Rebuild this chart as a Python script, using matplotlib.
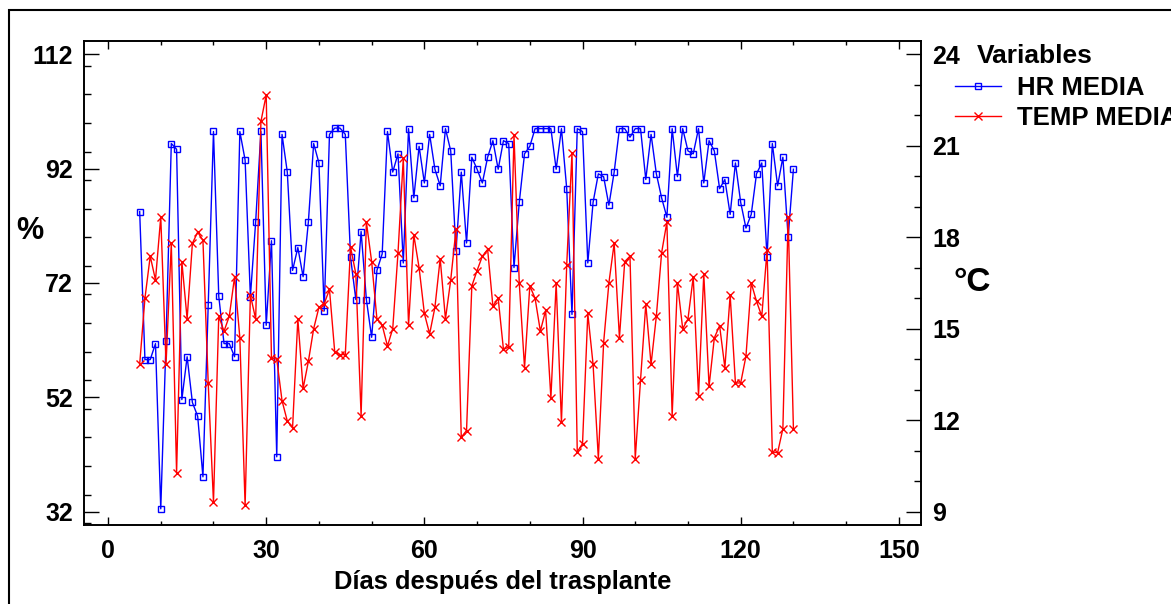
import matplotlib
matplotlib.use('Agg')
import matplotlib.pyplot as plt
from matplotlib.ticker import MultipleLocator
from matplotlib.patches import Rectangle

plt.rcParams['font.family'] = ['Liberation Sans', 'DejaVu Sans']
plt.rcParams['font.weight'] = 'bold'

# Días después del trasplante (6 a 130)
dias = list(range(6, 131))

# HR MEDIA (%), eje izquierdo
hr_media = [84.5, 58.6, 58.6, 61.4, 32.5, 61.9, 96.4, 95.4, 51.6, 59.1,
            51.1, 48.7, 38.1, 68.1, 98.5, 69.7, 61.4, 61.4, 59.1, 98.5,
            93.5, 69.6, 82.7, 98.5, 64.6, 79.4, 41.6, 98.0, 91.4, 74.2,
            78.2, 73.1, 82.7, 96.4, 93.0, 67.1, 98.0, 99.1, 99.1, 98.0,
            76.5, 69.1, 81.0, 69.1, 62.5, 74.2, 77.1, 98.5, 91.4, 94.6,
            75.5, 99.0, 86.9, 95.9, 89.5, 98.0, 91.9, 89.0, 99.0, 95.1,
            77.6, 91.4, 79.0, 94.0, 91.9, 89.5, 94.0, 96.9, 91.9, 96.9,
            96.4, 74.7, 86.1, 94.6, 95.9, 99.0, 99.0, 99.0, 99.0, 91.9,
            99.0, 88.5, 66.5, 99.0, 98.5, 75.5, 86.1, 91.1, 90.6, 85.6,
            91.4, 99.0, 99.0, 97.5, 99.0, 99.0, 90.1, 98.0, 91.1, 86.9,
            83.5, 99.0, 90.6, 99.0, 95.1, 94.6, 99.0, 89.5, 96.9, 95.1,
            88.5, 90.1, 84.0, 93.0, 86.1, 81.6, 84.0, 91.1, 93.0, 76.5,
            96.4, 89.0, 94.0, 80.0, 91.9]

# TEMP MEDIA (°C), eje derecho
temp_media = [13.83, 16.0, 17.38, 16.6, 18.67, 13.83, 17.8, 10.27, 17.2, 15.32,
              17.8, 18.17, 17.9, 13.22, 9.31, 15.41, 14.92, 15.41, 16.7, 14.7,
              9.2, 16.1, 15.32, 21.8, 22.67, 14.04, 14.0, 12.64, 11.97, 11.75,
              15.32, 13.04, 13.93, 15.0, 15.7, 15.82, 16.29, 14.23, 14.15, 14.15,
              17.68, 16.8, 12.15, 18.5, 17.2, 15.32, 15.12, 14.43, 15.0, 17.49,
              20.59, 15.12, 18.07, 17.0, 15.5, 14.83, 15.7, 17.3, 15.32, 16.6,
              18.26, 11.44, 11.66, 16.4, 16.91, 17.38, 17.6, 15.74, 16.0, 14.32,
              14.4, 21.35, 16.5, 13.72, 16.4, 16.0, 14.92, 15.6, 12.73, 16.5,
              11.93, 17.09, 20.77, 10.96, 11.23, 15.5, 13.83, 10.74, 14.54, 16.5,
              17.8, 14.7, 17.2, 17.38, 10.74, 13.31, 15.8, 13.83, 15.41, 17.49,
              18.5, 12.15, 16.5, 15.0, 15.32, 16.7, 12.8, 16.8, 13.11, 14.7,
              15.1, 13.72, 16.1, 13.22, 13.22, 14.1, 16.5, 15.9, 15.41, 17.57,
              10.96, 10.93, 11.72, 18.66, 11.72]

W, H = 1171, 604
fig = plt.figure(figsize=(W / 100, H / 100), dpi=100)
ax = fig.add_axes([84 / W, 1 - 525 / H, (921 - 84) / W, (525 - 41) / H])
ax2 = ax.twinx()

l1, = ax.plot(dias, hr_media, color='#0000ff', lw=1, marker='s', ms=4.5,
              mfc='none', mew=1, label='HR MEDIA')
l2, = ax2.plot(dias, temp_media, color='#ff0000', lw=1, marker='x', ms=5.5,
               mew=1, label='TEMP MEDIA')

ax.set_xlim(-4.56, 154.2)
ax.set_ylim(29.67, 114.33)
ax2.set_ylim(8.56, 24.44)

ax.set_xticks([0, 30, 60, 90, 120, 150])
ax.xaxis.set_minor_locator(MultipleLocator(10))
ax.set_yticks([32, 52, 72, 92, 112])
ax.yaxis.set_minor_locator(MultipleLocator(5))
ax2.set_yticks([9, 12, 15, 18, 21, 24])
ax2.yaxis.set_minor_locator(MultipleLocator(1))

fs = 18
ax.tick_params(axis='x', which='both', direction='in', top=True, labelsize=fs, pad=10)
ax.tick_params(axis='x', which='major', length=6, width=1)
ax.tick_params(axis='x', which='minor', length=3, width=1)
ax.tick_params(axis='y', which='both', direction='in', labelsize=fs, pad=8)
ax.tick_params(axis='y', which='major', length=11, width=1)
ax.tick_params(axis='y', which='minor', length=5, width=1)
ax2.tick_params(axis='y', which='both', direction='in', labelsize=fs, pad=8)
ax2.tick_params(axis='y', which='major', length=11, width=1)
ax2.tick_params(axis='y', which='minor', length=5, width=1)

for a in (ax, ax2):
    for s in a.spines.values():
        s.set_linewidth(1.2)

ax.set_xlabel('Días después del trasplante', fontsize=18.4, fontweight='bold', labelpad=5)
fig.text(30 / W, 1 - 231 / H, '%', fontsize=22, fontweight='bold', ha='center', va='center')
fig.text(972 / W, 1 - 282 / H, '°C', fontsize=24, fontweight='bold', ha='center', va='center')

fig.text(977 / W, 1 - 56 / H, 'Variables', fontsize=19, fontweight='bold', ha='left', va='center')
fig.legend(handles=[l1, l2], loc='upper left', bbox_to_anchor=(955 / W, 1 - 76 / H),
           frameon=False, prop={'size': 18.5, 'weight': 'bold'}, handlelength=1.8,
           handletextpad=0.6, borderaxespad=0, borderpad=0, labelspacing=0.22)

# marco exterior de la figura
fig.patches.append(Rectangle((9 / W, -0.05), 1.2, 1 - 10 / H + 0.05, transform=fig.transFigure,
                             fill=False, lw=1.5, ec='black'))

fig.savefig('out.png', dpi=100)
